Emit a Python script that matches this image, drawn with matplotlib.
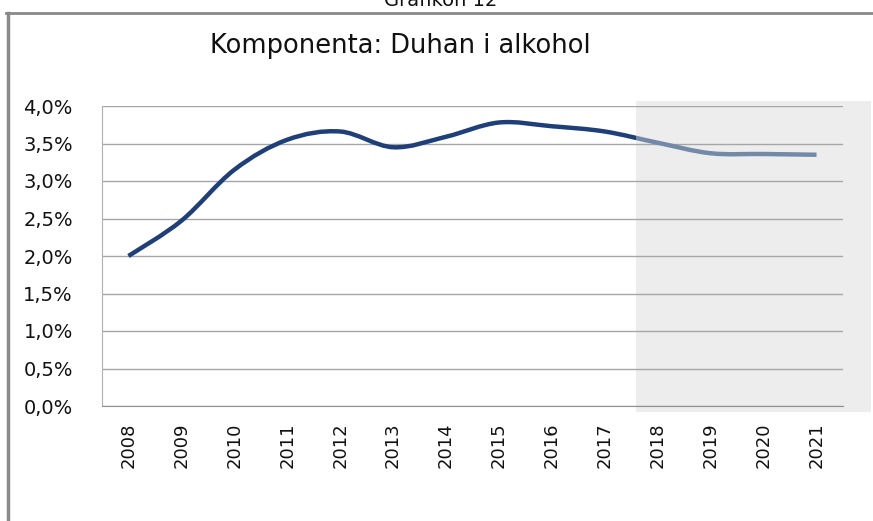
import numpy as np
import matplotlib.pyplot as plt
from matplotlib.path import Path
from matplotlib.patches import PathPatch, Rectangle
from matplotlib.ticker import FuncFormatter

# data
years = ["2008", "2009", "2010", "2011", "2012", "2013", "2014",
         "2015", "2016", "2017", "2018", "2019", "2020", "2021"]
share = [2.00, 2.47, 3.15, 3.55, 3.66, 3.45, 3.59,
         3.78, 3.73, 3.66, 3.51, 3.37, 3.36, 3.35]
yticks = [0.0, 0.5, 1.0, 1.5, 2.0, 2.5, 3.0, 3.5, 4.0]
forecast_from = 9.59   # start of shaded (projection) band, in category units

title = "Komponenta: Duhan i alkohol"
top_label = "Grafikon 12"

navy = "#1f3f78"
navy_light = "#7289a8"
shade = "#ededed"
grid_c = "#a6a6a6"

plt.rcParams['font.family'] = ['DejaVu Sans']

fig = plt.figure(figsize=(8.73, 5.21), dpi=100)
ax = fig.add_axes([102/873, 1 - 406/521, 741/873, 300/521])

x = np.arange(len(years))
ax.set_xlim(-0.5, len(years) - 0.5)
ax.set_ylim(0, 4.0)

# shaded projection band (sticks out a little past the plot area)
ax.add_patch(Rectangle((forecast_from, -0.08), 14.03 - forecast_from, 4.15,
                       facecolor=shade, edgecolor="none", zorder=0, clip_on=False))

ax.set_yticks(yticks)
ax.yaxis.set_major_formatter(FuncFormatter(lambda v, p: f"{v:.1f}%".replace(".", ",")))
ax.grid(axis="y", color=grid_c, linewidth=1.0, zorder=1)
ax.set_axisbelow(True)
ax.set_xticks(x)
ax.set_xticklabels(years, rotation=90, fontsize=13,
                   family=['Liberation Sans Narrow', 'DejaVu Sans Condensed', 'DejaVu Sans'])
ax.tick_params(length=0)
ax.tick_params(axis="y", labelsize=14, pad=21, colors="#111111")
ax.tick_params(axis="x", pad=12, colors="#111111")

for s in ["top", "right"]:
    ax.spines[s].set_visible(False)
ax.spines["left"].set_color("#b0b0b0")
ax.spines["bottom"].set_color("#909090")
ax.patch.set_alpha(0)

# smoothed line (Excel-style bezier through the points)
pts = np.column_stack([x, share]).astype(float)
verts = [pts[0]]
codes = [Path.MOVETO]
n = len(pts)
for i in range(n - 1):
    p0 = pts[i - 1] if i > 0 else pts[i]
    p1 = pts[i]
    p2 = pts[i + 1]
    p3 = pts[i + 2] if i + 2 < n else pts[i + 1]
    verts += [p1 + (p2 - p0) / 6, p2 - (p3 - p1) / 6, p2]
    codes += [Path.CURVE4] * 3
curve = Path(verts, codes)

for col, (x0, x1) in [(navy, (-1, forecast_from)), (navy_light, (forecast_from, 15))]:
    pp = PathPatch(curve, facecolor="none", edgecolor=col, linewidth=3.2,
                   capstyle="butt", joinstyle="round", zorder=3)
    ax.add_patch(pp)
    clip = Rectangle((x0, -1), x1 - x0, 6, transform=ax.transData)
    pp.set_clip_path(clip)

# title and outer frame
fig.text(400/873, 1 - 46/521, title, ha="center", va="center", fontsize=18.5, color="#111111")
fig.text(441/873, 1 - 6/521, top_label, ha="center", va="baseline", fontsize=14, color="#111111")
fig.add_artist(plt.Line2D([6/873, 1], [1 - 12.5/521] * 2, color="#8a8a8a", linewidth=2))
fig.add_artist(plt.Line2D([7.5/873] * 2, [0, 1 - 12.5/521], color="#8a8a8a", linewidth=2.5))

fig.savefig("out.png", dpi=100)
